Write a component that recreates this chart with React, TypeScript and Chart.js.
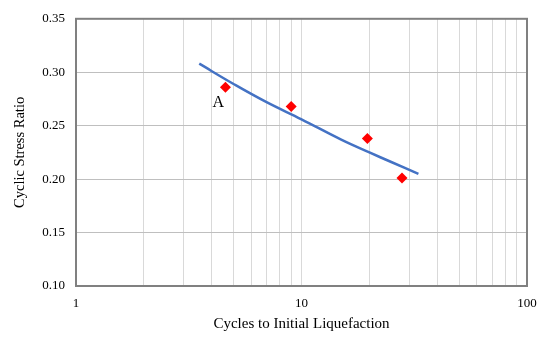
import React, { useEffect, useRef } from "react";
import { Chart, registerables } from "chart.js";

Chart.register(...registerables);

const measuredCycles = [4.6, 9.0, 19.6, 27.9];
const measuredCSR = [0.286, 0.268, 0.238, 0.201];

const fitCycles = [3.52, 5, 7, 10, 15, 20, 25, 33];
const fitCSR = [0.308, 0.289, 0.272, 0.256, 0.237, 0.225, 0.216, 0.205];

const xTickValues = [1, 2, 3, 4, 5, 6, 7, 8, 9, 10, 20, 30, 40, 50, 60, 70, 80, 90, 100];
const xTickLabels = ["1", "10", "100"];

const labelText = "A";
const labelAt = { x: 4.28, y: 0.271 };

const FONT = "'Liberation Serif', 'DejaVu Serif', serif";

export default function App() {
  const ref = useRef<HTMLCanvasElement | null>(null);

  useEffect(() => {
    document.body.style.margin = "0";
    const canvas = ref.current;
    if (!canvas) return;

    const frame = {
      id: "frame",
      afterDatasetsDraw(chart: any) {
        const { ctx, chartArea, scales } = chart;
        ctx.save();
        ctx.strokeStyle = "#808080";
        ctx.lineWidth = 2;
        ctx.strokeRect(chartArea.left, chartArea.top, chartArea.right - chartArea.left, chartArea.bottom - chartArea.top);
        ctx.fillStyle = "#000";
        ctx.font = "16px " + FONT;
        ctx.textAlign = "center";
        ctx.textBaseline = "middle";
        ctx.fillText(labelText, scales.x.getPixelForValue(labelAt.x), scales.y.getPixelForValue(labelAt.y));
        ctx.restore();
      },
    };

    const chart = new Chart(canvas, {
      type: "scatter",
      data: {
        datasets: [
          {
            label: "Fit",
            data: fitCycles.map((x, i) => ({ x, y: fitCSR[i] })),
            showLine: true,
            borderColor: "#4472C4",
            borderWidth: 2.5,
            pointRadius: 0,
            tension: 0.4,
            order: 2,
          },
          {
            label: "Measured",
            data: measuredCycles.map((x, i) => ({ x, y: measuredCSR[i] })),
            showLine: false,
            pointStyle: "rectRot",
            pointRadius: 5.5,
            backgroundColor: "#FF0000",
            borderColor: "#FF0000",
            borderWidth: 0,
            order: 1,
          },
        ],
      },
      options: {
        animation: false,
        responsive: false,
        devicePixelRatio: 1,
        layout: { padding: { top: 13, right: 23, left: 0, bottom: 0 } },
        plugins: { legend: { display: false }, tooltip: { enabled: false } },
        scales: {
          x: {
            type: "logarithmic",
            min: 1,
            max: 100,
            afterBuildTicks(scale: any) {
              scale.ticks = xTickValues.map((v) => ({ value: v }));
            },
            afterFit(scale: any) {
              scale.height = 59;
            },
            grid: { color: "#d9d9d9", lineWidth: 1, drawTicks: false },
            border: { display: false },
            ticks: {
              autoSkip: false,
              maxRotation: 0,
              padding: 10,
              color: "#000",
              font: { family: FONT, size: 13 },
              callback: (v: any) => (xTickLabels.includes(String(v)) ? String(v) : ""),
            },
            title: {
              display: true,
              text: "Cycles to Initial Liquefaction",
              color: "#000",
              font: { family: FONT, size: 15 },
              padding: { top: 4, bottom: 12 },
            },
          },
          y: {
            type: "linear",
            min: 0.1,
            max: 0.35,
            afterFit(scale: any) {
              scale.width = 76;
            },
            grid: { color: "#bfbfbf", lineWidth: 1, drawTicks: false },
            border: { display: false },
            ticks: {
              stepSize: 0.05,
              padding: 11,
              color: "#000",
              font: { family: FONT, size: 13 },
              callback: (v: any) => Number(v).toFixed(2),
            },
            title: {
              display: true,
              text: "Cyclic Stress Ratio",
              color: "#000",
              font: { family: FONT, size: 14.5 },
              padding: { top: 11, bottom: 0 },
            },
          },
        },
      },
      plugins: [frame],
    } as any);

    return () => chart.destroy();
  }, []);

  return <canvas ref={ref} width={550} height={345} style={{ display: "block" }} />;
}
